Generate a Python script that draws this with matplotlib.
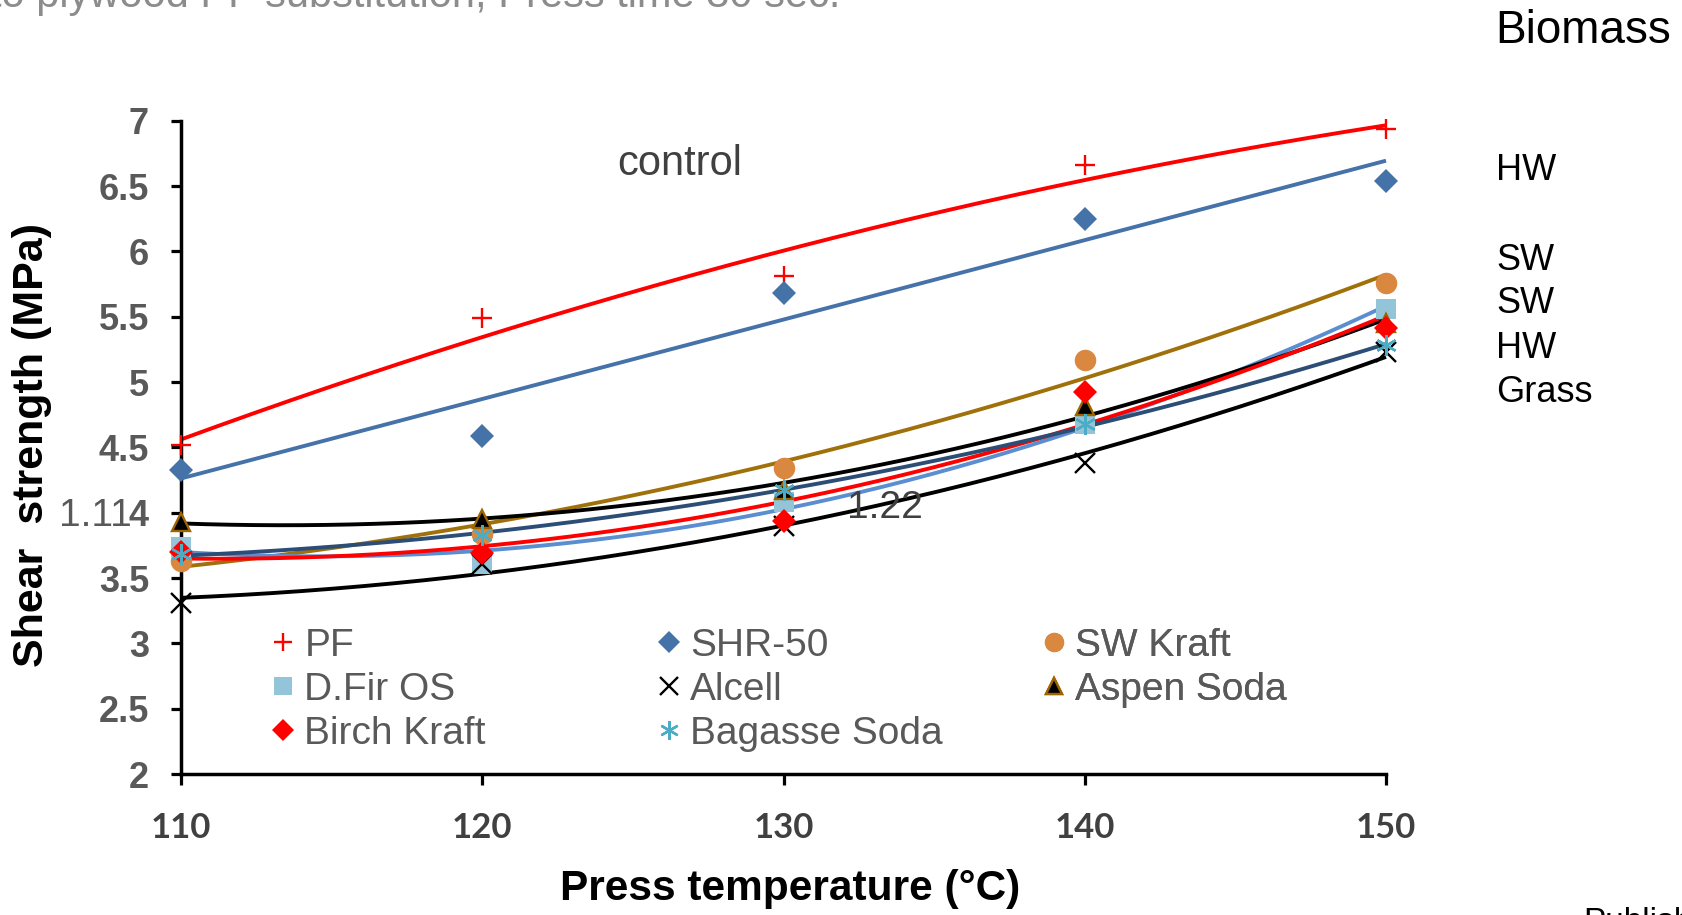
import numpy as np
import matplotlib
matplotlib.use("Agg")
import matplotlib.pyplot as plt

plt.rcParams['font.family'] = ['Liberation Sans', 'DejaVu Sans']

# Press temperatures (°C)
temperature = [110, 120, 130, 140, 150]

# Shear strength (MPa) per adhesive
pf = [4.52, 5.49, 5.81, 6.66, 6.94]
shr50 = [4.33, 4.59, 5.68, 6.25, 6.54]
sw_kraft = [3.63, 3.84, 4.34, 5.17, 5.76]
dfir_os = [3.74, 3.61, 4.08, 4.68, 5.56]
alcell = [3.31, 3.61, 3.90, 4.38, 5.23]
aspen_soda = [3.93, 3.95, 4.17, 4.82, 5.45]
birch_kraft = [3.70, 3.69, 3.94, 4.92, 5.41]
bagasse_soda = [3.68, 3.83, 4.17, 4.68, 5.28]

series_names = ["PF", "SHR-50", "SW Kraft", "D.Fir OS", "Alcell",
                "Aspen Soda", "Birch Kraft", "Bagasse Soda"]
series_values = [pf, shr50, sw_kraft, dfir_os, alcell,
                 aspen_soda, birch_kraft, bagasse_soda]

# trendline order per series (SHR-50 uses a straight-line fit)
trend_order = {"SHR-50": 1}

y_ticks = [2, 2.5, 3, 3.5, 4, 4.5, 5, 5.5, 6, 6.5, 7]
x_ticks = [110, 120, 130, 140, 150]

biomass_labels = ["HW", "SW", "SW", "HW", "Grass"]

# marker style, trendline colour
styles = {
    "PF": dict(marker='+', color='#FF0000', ms=15, mew=1.7, mec='#FF0000', line='#FF0000'),
    "SHR-50": dict(marker='D', color='#4573A7', ms=12.5, mew=0, mec='#4573A7', line='#4672AA'),
    "SW Kraft": dict(marker='o', color='#DA8840', ms=15.5, mew=0, mec='#DA8840', line='#A0710A'),
    "D.Fir OS": dict(marker='s', color='#93C4D8', ms=14, mew=0, mec='#93C4D8', line='#5B8ED0'),
    "Alcell": dict(marker='x', color='black', ms=14, mew=1.7, mec='black', line='black'),
    "Aspen Soda": dict(marker='^', color='black', ms=13, mew=1.7, mec='#9C6500', line='black'),
    "Birch Kraft": dict(marker='D', color='#FF0000', ms=12.5, mew=0, mec='#FF0000', line='#FF0000'),
    "Bagasse Soda": dict(marker=(6, 2, 0), color='#4BACC6', ms=15, mew=1.7, mec='#4BACC6', line='#2C4D75'),
}

W, H = 1683, 915
fig = plt.figure(figsize=(W / 100, H / 100), dpi=100)
ax = fig.add_axes([181 / W, 1 - 774 / H, (1386 - 181) / W, (774 - 120.7) / H])

xs = np.array(temperature, dtype=float)
xfine = np.linspace(110, 150, 200)
handles = {}
for name, vals in zip(series_names, series_values):
    st = styles[name]
    coef = np.polyfit(xs, vals, trend_order.get(name, 2))
    ax.plot(xfine, np.polyval(coef, xfine), color=st['line'], lw=2.8,
            zorder=2, clip_on=False, solid_capstyle='butt')
for name, vals in zip(series_names, series_values):
    st = styles[name]
    h, = ax.plot(xs, vals, linestyle='none', marker=st['marker'],
                 color=st['color'], markersize=st['ms'],
                 markeredgewidth=st['mew'], markeredgecolor=st['mec'],
                 zorder=3, clip_on=False, label=name)
    handles[name] = h

ax.set_xlim(110, 150)
ax.set_ylim(2, 7)
for s in ['top', 'right']:
    ax.spines[s].set_visible(False)
for s in ['left', 'bottom']:
    ax.spines[s].set_linewidth(2.5)
    ax.spines[s].set_color('black')

ax.set_yticks(y_ticks)
ax.set_yticklabels([f"{v:g}" for v in y_ticks], fontsize=26, fontweight='bold',
                   color='#595959')
ax.set_xticks(x_ticks)
ax.set_xticklabels([str(v) for v in x_ticks], fontsize=25, fontweight='bold',
                   color='#404040', family=['Lato', 'DejaVu Sans'])
ax.tick_params(axis='y', direction='out', length=7, width=2.3, pad=16)
ax.tick_params(axis='x', direction='out', length=8, width=2.3, pad=19)

# axis titles
fig.text(32 / W, 1 - 445 / H, "Shear  strength (MPa)", rotation=90,
         ha='center', va='center', fontsize=31, fontweight='bold', color='black')
fig.text(790 / W, 1 - 889 / H, "Press temperature (°C)",
         ha='center', va='center', fontsize=30.5, fontweight='bold', color='black')

# legend, three columns
leg_cols = [["PF", "D.Fir OS", "Birch Kraft"],
            ["SHR-50", "Alcell", "Bagasse Soda"],
            ["SW Kraft", "Aspen Soda"]]
col_x = [267.4, 653.4, 1038.4]
for cx, names in zip(col_x, leg_cols):
    lg = ax.legend([handles[n] for n in names], names, loc='upper left',
                   bbox_to_anchor=(cx / W, 1 - 628 / H),
                   bbox_transform=fig.transFigure, frameon=False,
                   prop={'size': 28}, labelcolor='#595959', numpoints=1,
                   handlelength=0.8, handletextpad=0.15, labelspacing=0.2,
                   borderpad=0, borderaxespad=0, markerscale=0.9)
    ax.add_artist(lg)

# annotations
fig.text(840 / W, 1 - 7 / H, "to plywood PF substitution, Press time 30 sec.",
         ha='right', va='baseline', fontsize=30, color='#8C8C8C')
fig.text(1495 / W, 1 - 43 / H, "Biomass", ha='left', va='baseline',
         fontsize=33, color='black')
for lab, yb in zip(biomass_labels, [180, 270, 313, 358, 402]):
    fig.text(1496 / W, 1 - yb / H, lab, ha='left', va='baseline',
             fontsize=26, color='black')
fig.text(617 / W, 1 - 175 / H, "control", ha='left', va='baseline',
         fontsize=30, color='#404040')
fig.text(847 / W, 1 - 518 / H, "1.22", ha='left', va='baseline',
         fontsize=28, color='#404040')
fig.text(59 / W, 1 - 526 / H, "1.11", ha='left', va='baseline',
         fontsize=28, color='#595959')
fig.text(1583 / W, 1 - 907 / H, "Published", ha='left', va='top',
         fontsize=24, color='black')

fig.savefig("out.png", dpi=100)
